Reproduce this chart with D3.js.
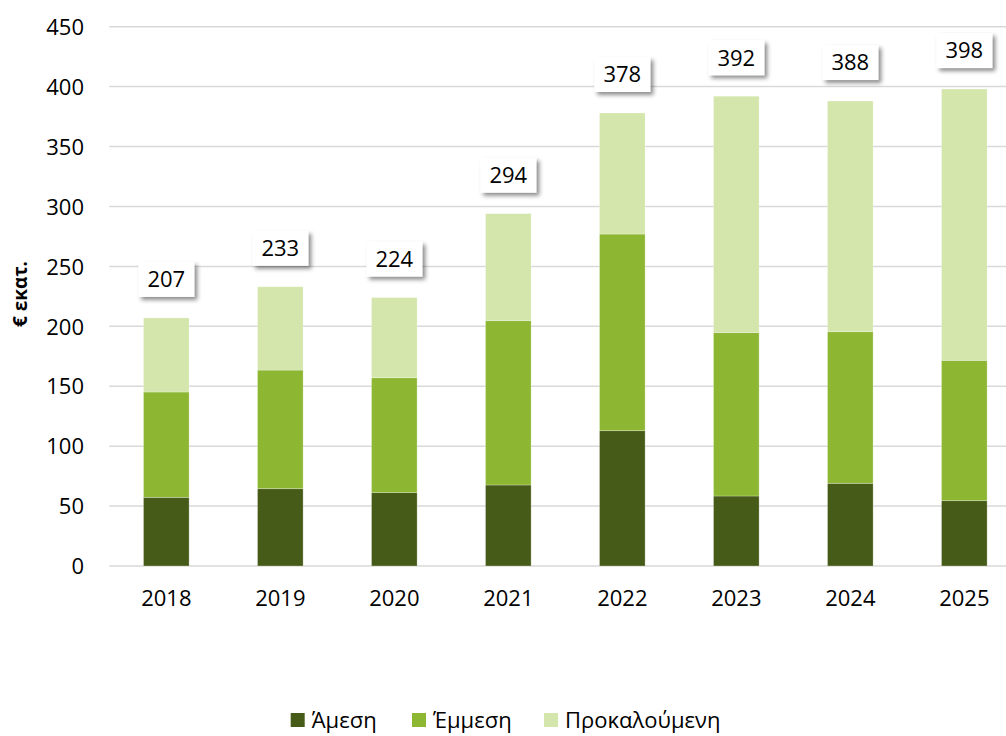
<!DOCTYPE html>
<html>
<head>
<meta charset="utf-8">
<script src="https://cdn.jsdelivr.net/npm/d3@7"></script>
<style>
  html, body { margin: 0; padding: 0; background: #ffffff; }
  svg { display: block; }
</style>
</head>
<body>
<svg id="chart" width="1006" height="736"></svg>
<script>
const years = ["2018", "2019", "2020", "2021", "2022", "2023", "2024", "2025"];
const direct = [57.3, 64.5, 61.2, 67.6, 112.9, 58.4, 69.0, 54.5];
const indirect = [87.9, 99.0, 95.9, 137.1, 164.1, 136.3, 126.5, 117.1];
const induced = [61.8, 69.5, 66.9, 89.3, 101.0, 197.3, 192.5, 226.4];
const totals = [207, 233, 224, 294, 378, 392, 388, 398];
const seriesNames = ["Άμεση", "Έμμεση", "Προκαλούμενη"];
const seriesColors = ["#475B19", "#8DB733", "#D4E6AB"];
const yTicks = [0, 50, 100, 150, 200, 250, 300, 350, 400, 450];
const yTitle = "€ εκατ.";

const FONT = "'Open Sans', 'Noto Sans', sans-serif";
const svg = d3.select("#chart");

const x = d3.scaleBand().domain(years).range([109.3, 1021.3]).paddingInner(0.6).paddingOuter(0.3);
const y = d3.scaleLinear().domain([0, 450]).range([566, 26.7]);

const defs = svg.append("defs");
const f = defs.append("filter").attr("id", "shadow").attr("x", "-30%").attr("y", "-30%").attr("width", "170%").attr("height", "180%");
f.append("feDropShadow").attr("dx", 3).attr("dy", 3).attr("stdDeviation", 2.2).attr("flood-color", "#000").attr("flood-opacity", 0.45);

const clip = defs.append("clipPath").attr("id", "clipArea");
clip.append("rect").attr("x", 0).attr("y", 0).attr("width", 1006).attr("height", 736);

// gridlines
const grid = svg.append("g").attr("clip-path", "url(#clipArea)");
grid.selectAll("line").data(yTicks).join("line")
  .attr("x1", 109.3).attr("x2", 1021.3)
  .attr("y1", d => y(d)).attr("y2", d => y(d))
  .attr("stroke", "#D9D9D9").attr("stroke-width", 1.5);

// y axis labels
const yAxis = d3.axisLeft(y).tickValues(yTicks).tickSize(0).tickPadding(0);
const yg = svg.append("g").attr("transform", "translate(84,0)").call(yAxis);
yg.select(".domain").remove();
yg.selectAll("text").attr("font-family", FONT).attr("font-size", 22).attr("fill", "#000").attr("dy", "0.35em");

// x axis labels
const xAxis = d3.axisBottom(x).tickSize(0).tickPadding(0);
const xg = svg.append("g").attr("transform", "translate(0,591)").call(xAxis);
xg.select(".domain").remove();
xg.selectAll("text").attr("font-family", FONT).attr("font-size", 22).attr("fill", "#000").attr("dy", "0.7em");

// stacked bars
const rows = years.map((yr, i) => ({ year: yr, s0: direct[i], s1: indirect[i], s2: induced[i] }));
const stack = d3.stack().keys(["s0", "s1", "s2"]);
const layers = stack(rows);
svg.append("g").selectAll("g").data(layers).join("g")
  .attr("fill", (d, i) => seriesColors[i])
  .selectAll("rect").data(d => d).join("rect")
  .attr("x", d => x(d.data.year))
  .attr("width", x.bandwidth())
  .attr("y", d => y(d[1]))
  .attr("height", d => y(d[0]) - y(d[1]))
  .attr("stroke", "#ffffff").attr("stroke-opacity", 0.35).attr("stroke-width", 0.75);

// data labels in boxes
const lab = svg.append("g").selectAll("g").data(years.map((yr, i) => ({ year: yr, total: totals[i] }))).join("g")
  .attr("transform", d => `translate(${x(d.year) + x.bandwidth() / 2},${y(d.total) - 38.5})`);
lab.append("rect").attr("x", -28).attr("y", -17.5).attr("width", 56).attr("height", 35)
  .attr("fill", "#fff").attr("filter", "url(#shadow)");
lab.append("text").text(d => d.total)
  .attr("text-anchor", "middle").attr("dy", "0.36em")
  .attr("font-family", FONT).attr("font-size", 22).attr("fill", "#000");

// y title
svg.append("text").text(yTitle)
  .attr("transform", "translate(27,294) rotate(-90)")
  .attr("text-anchor", "middle")
  .attr("font-family", FONT).attr("font-size", 19).attr("font-weight", "bold").attr("fill", "#000");

// legend
const legendX = [290.7, 412, 544];
const lg = svg.append("g").selectAll("g").data(seriesNames).join("g")
  .attr("transform", (d, i) => `translate(${legendX[i]},713)`);
lg.append("rect").attr("width", 14).attr("height", 14).attr("fill", (d, i) => seriesColors[i]);
lg.append("text").text(d => d).attr("x", 21).attr("y", 7).attr("dy", "0.36em")
  .attr("font-family", FONT).attr("font-size", 22).attr("fill", "#000");
</script>
</body>
</html>
